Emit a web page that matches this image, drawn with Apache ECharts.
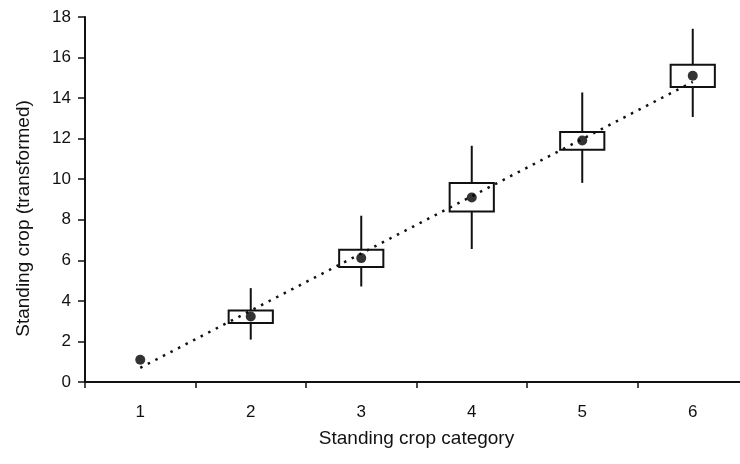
<!DOCTYPE html>
<html><head><meta charset="utf-8">
<script src="https://cdn.jsdelivr.net/npm/echarts@6/dist/echarts.min.js"></script>
<style>html,body{margin:0;padding:0;background:#fff}#c{width:740px;height:464px}</style>
</head><body><div id="c"></div>
<script>
const categories = ['1','2','3','4','5','6'];
const yTicks = [0, 18, 2];
// mean dots
const means = [1.10, 3.23, 6.11, 9.10, 11.91, 15.10];
// boxes: [lowWhisker, boxBottom, boxTop, highWhisker]; null = no box
const whiskLow  = [null, 2.09, 4.71, 6.56, 9.82, 13.07];
const boxLow    = [null, 2.91, 5.67, 8.41, 11.45, 14.55];
const boxHigh   = [null, 3.53, 6.52, 9.81, 12.33, 15.65];
const whiskHigh = [null, 4.63, 8.20, 11.65, 14.28, 17.42];
// fitted line end points (category 1 and category 6)
const fitStart = 0.70;
const fitEnd = 14.80;

const boxData = categories.map((c,i)=> whiskLow[i]==null ? null : [i, whiskLow[i], boxLow[i], boxHigh[i], whiskHigh[i]]).filter(d=>d);

const chart = echarts.init(document.getElementById('c'), null, {renderer:'canvas'});
const font = "'Liberation Sans', Arial, sans-serif";
chart.setOption({
  animation:false,
  grid:{left:85, top:17, bottom:82, width:663, outerBoundsMode:'none'},
  xAxis:{
    type:'category', data:categories, boundaryGap:true,
    axisLine:{lineStyle:{color:'#111', width:2}},
    axisTick:{show:true, length:6, lineStyle:{color:'#111', width:1.5}},
    axisLabel:{color:'#111', fontSize:17, fontFamily:font, margin:22},
    name:'Standing crop category', nameLocation:'middle', nameGap:47,
    nameTextStyle:{color:'#111', fontSize:19, fontFamily:font},
    splitLine:{show:false}
  },
  yAxis:{
    type:'value', min:yTicks[0], max:yTicks[1], interval:yTicks[2],
    axisLine:{show:true, lineStyle:{color:'#111', width:2}},
    axisTick:{show:true, length:7, lineStyle:{color:'#111', width:1.5}},
    axisLabel:{color:'#111', fontSize:17, fontFamily:font, margin:14},
    splitLine:{show:false},
    name:'Standing crop (transformed)', nameLocation:'middle', nameGap:52,
    nameTextStyle:{color:'#111', fontSize:19, fontFamily:font, padding:[0,38,0,0]}
  },
  series:[
    {
      type:'line', data:[[0, fitStart],[5, fitEnd]], symbol:'none', z:3,
      lineStyle:{color:'#111', width:2.5, type:[2.5,6]}
    },
    {
      type:'custom', z:2,
      data: boxData,
      renderItem:(params, api)=>{
        const x = api.value(0);
        const pLow = api.coord([x, api.value(1)]);
        const pB = api.coord([x, api.value(2)]);
        const pT = api.coord([x, api.value(3)]);
        const pHigh = api.coord([x, api.value(4)]);
        const w = api.size([1,0])[0]*0.4;
        const st = {stroke:'#111', lineWidth:2};
        return {type:'group', children:[
          {type:'line', shape:{x1:pHigh[0], y1:pHigh[1], x2:pT[0], y2:pT[1]}, style:st},
          {type:'line', shape:{x1:pB[0], y1:pB[1], x2:pLow[0], y2:pLow[1]}, style:st},
          {type:'rect', shape:{x:pT[0]-w/2, y:pT[1], width:w, height:pB[1]-pT[1]}, style:{fill:'rgba(255,255,255,0)', stroke:'#111', lineWidth:2}}
        ]};
      }
    },
    {
      type:'scatter', data:means, symbol:'circle', symbolSize:10, z:4,
      itemStyle:{color:'#000'}
    }
  ]
});
</script></body></html>
